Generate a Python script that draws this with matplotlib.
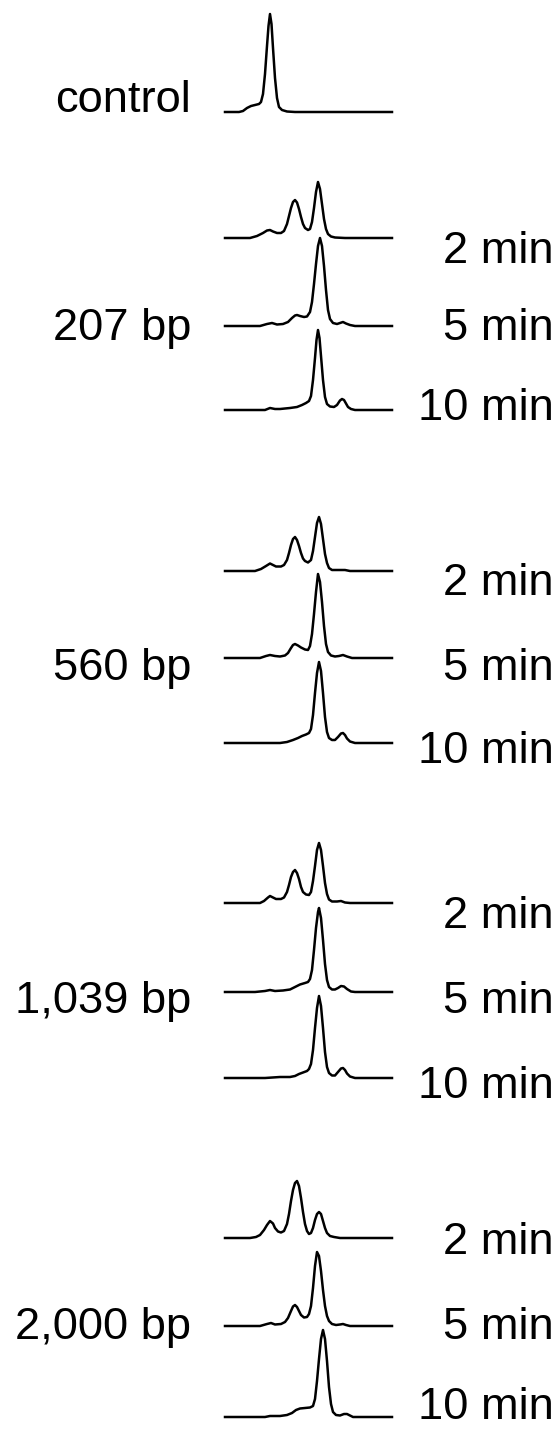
import matplotlib.pyplot as plt
import numpy as np

plt.rcParams['font.family'] = ['Liberation Sans', 'DejaVu Sans']

# densitometer traces: (position along lane, signal)
control = [(0, 0), (14, 0), (18, 1), (22, 4), (26, 6), (30, 7), (34, 8), (36, 10), (38, 18), (40, 38),
           (42, 66), (43.5, 86), (45, 98), (46.5, 88), (48, 64), (50, 34), (52, 14), (54, 5), (57, 2),
           (62, 0.5), (70, 0), (167, 0)]

bp207_2 = [(0, 0), (25, 0), (32, 2), (38, 5), (42, 7.5), (45, 8), (48, 6.5), (52, 5), (56, 5), (59, 7),
           (62, 14), (64, 22), (66, 30), (68, 36), (70, 38), (72, 35.5), (74, 29), (76, 21), (78, 14),
           (80, 10), (83, 8), (85, 9), (87, 16), (89, 30), (91, 46), (93, 56), (95, 49), (97, 34),
           (99, 19), (101, 9), (103, 4), (106, 1.5), (110, 0.5), (120, 0), (167, 0)]
bp207_5 = [(0, 0), (35, 0), (42, 2), (47, 3), (52, 1.5), (58, 2), (63, 4), (67, 8), (70, 10.5), (72, 11),
           (75, 10), (79, 9), (82, 9.5), (85, 14), (87, 24), (89, 42), (91, 62), (93, 80), (95, 88),
           (97, 80), (99, 60), (101, 36), (103, 16), (105, 7), (108, 3), (112, 2), (115, 3), (118, 4),
           (121, 2.5), (125, 1), (130, 0), (167, 0)]
bp207_10 = [(0, 0), (40, 0), (45, 2), (50, 1), (55, 1), (65, 2), (72, 3), (77, 5), (81, 7), (84, 9),
            (86, 14), (88, 30), (90, 52), (91.5, 70), (93, 80), (94.5, 72), (96, 54), (98, 30), (100, 13),
            (102, 6), (105, 3.5), (109, 3), (112, 5), (115, 9.5), (117, 11), (119, 10), (121, 6.5),
            (123, 3), (126, 1), (130, 0), (167, 0)]

bp560_2 = [(0, 0), (30, 0), (36, 2), (41, 5), (45, 7.5), (48, 6), (51, 4.5), (56, 4.5), (59, 6), (62, 11),
           (64, 18), (66, 26), (68, 32), (70, 34), (72, 31), (74, 25), (76, 18), (78, 12.5), (80, 10),
           (83, 8.5), (86, 11), (88, 20), (90, 34), (92, 48), (94, 54), (96, 47), (98, 32), (100, 17),
           (102, 8), (104, 3), (107, 1), (115, 1), (120, 1), (125, 0), (167, 0)]
bp560_5 = [(0, 0), (35, 0), (41, 2), (45, 3), (50, 2), (55, 1.5), (60, 2.5), (63, 5), (66, 10), (68, 13),
           (70, 14), (73, 12.5), (76, 10.5), (80, 8.5), (83, 8), (85, 12), (87, 24), (89, 44), (91, 66),
           (93, 84), (95, 76), (97, 56), (99, 32), (101, 14), (103, 6), (106, 2.5), (110, 1.5), (114, 2),
           (118, 3), (122, 1.5), (127, 0), (167, 0)]
bp560_10 = [(0, 0), (40, 0), (55, 0), (62, 1), (68, 3), (73, 5), (77, 7), (81, 8.5), (84, 10), (86, 14),
            (88, 28), (90, 50), (92, 70), (94, 81), (96, 72), (98, 50), (100, 26), (102, 11), (104, 5),
            (107, 3), (110, 3), (113, 6), (116, 9.5), (118, 10), (120, 8), (122, 4.5), (125, 1.5),
            (130, 0), (167, 0)]

bp1039_2 = [(0, 0), (35, 0), (39, 2), (43, 5.5), (45, 7), (48, 5.5), (51, 4), (56, 4), (59, 5.5), (62, 11),
            (64, 18), (66, 26), (68, 31), (70, 33), (72, 30), (74, 24), (76, 16), (78, 11), (81, 8.5),
            (84, 8), (86, 11), (88, 22), (90, 37), (92, 53), (94, 60), (96, 53), (98, 37), (100, 20),
            (102, 9), (104, 3.5), (107, 1.5), (112, 1.5), (116, 2), (120, 0.5), (125, 0), (167, 0)]
bp1039_5 = [(0, 0), (30, 0), (40, 1), (45, 2), (50, 1), (58, 1.5), (65, 2.5), (70, 5), (75, 7.5), (80, 9),
            (83, 10), (85, 13), (87, 22), (89, 42), (91, 64), (93, 80), (94, 84), (96, 74), (98, 52),
            (100, 28), (102, 12), (104, 5), (107, 2.5), (110, 2.5), (113, 4), (116, 6), (119, 5.5),
            (122, 3), (126, 0.5), (130, 0), (167, 0)]
bp1039_10 = [(0, 0), (40, 0), (55, 1), (65, 1), (70, 2), (74, 4), (78, 5.5), (82, 7), (84, 9), (86, 14),
             (88, 28), (90, 50), (92, 70), (94, 82), (96, 72), (98, 50), (100, 26), (102, 11), (104, 5),
             (107, 2.5), (110, 2.5), (113, 6), (116, 9.5), (118, 10), (120, 8), (122, 4.5), (125, 1.5),
             (130, 0), (167, 0)]

bp2000_2 = [(0, 0), (25, 0), (31, 1), (35, 3), (39, 8), (42, 13), (45, 17), (48, 14.5), (50, 10),
            (53, 6.5), (56, 5.5), (59, 7), (62, 14), (64, 24), (66, 37), (68, 48), (70, 55), (72, 57),
            (74, 52), (76, 40), (78, 26), (80, 14), (82, 7), (84, 4), (86, 5), (88, 10), (90, 18),
            (92, 24), (94, 26), (96, 24), (98, 17), (100, 10), (102, 5), (105, 2), (109, 1), (115, 0),
            (167, 0)]
bp2000_5 = [(0, 0), (35, 0), (42, 2), (46, 3), (50, 1.5), (56, 2), (60, 4), (63, 8), (66, 15), (68, 19.5),
            (70, 21), (72, 19), (74, 15), (76, 11), (79, 8.5), (82, 9), (84, 12), (86, 20), (88, 38),
            (90, 60), (92, 74), (94, 70), (96, 55), (98, 36), (100, 20), (102, 10), (104, 5), (107, 2),
            (111, 1), (115, 1.5), (118, 2), (121, 1), (125, 0), (167, 0)]
bp2000_10 = [(0, 0), (40, 0), (45, 1), (55, 1), (62, 2), (67, 4), (71, 7), (75, 8.5), (80, 9), (85, 9.5),
             (88, 11), (90, 18), (92, 36), (94, 58), (96, 78), (98, 87), (100, 78), (102, 56), (104, 30),
             (106, 13), (108, 5), (111, 2), (115, 1.5), (119, 3), (122, 3), (125, 1.5), (128, 0), (167, 0)]

group_labels = ['207 bp', '560 bp', '1,039 bp', '2,000 bp']
time_labels = ['2 min', '5 min', '10 min']
groups = [[bp207_2, bp207_5, bp207_10],
          [bp560_2, bp560_5, bp560_10],
          [bp1039_2, bp1039_5, bp1039_10],
          [bp2000_2, bp2000_5, bp2000_10]]

# layout (pixels of the 556 x 1431 figure, measured from the top)
W, H = 556, 1431
lane_left, lane_w = 225, 167
trace_h = 100
ctrl_base = 112
bases = [[238, 326, 410], [571, 658, 743], [903, 992, 1078], [1238, 1326, 1417]]
text_bases = [[263, 340, 420], [595, 680, 763], [928, 1013, 1098], [1254, 1339, 1419]]
fs = 32.6

fig = plt.figure(figsize=(W / 100, H / 100), dpi=100)


def draw_trace(pts, base):
    ax = fig.add_axes([lane_left / W, 1 - base / H, lane_w / W, trace_h / H])
    ax.patch.set_alpha(0)
    xs, ys = zip(*pts)
    ax.plot(xs, ys, color='black', lw=1.8, solid_joinstyle='round', clip_on=False)
    ax.set_xlim(0, 167)
    ax.set_ylim(0, 100)
    ax.axis('off')


draw_trace(control, ctrl_base)
fig.text(191 / W, 1 - ctrl_base / H, 'control', ha='right', va='baseline', fontsize=fs)

for name, traces, bs, tb in zip(group_labels, groups, bases, text_bases):
    for pts, b, y, t in zip(traces, bs, tb, time_labels):
        draw_trace(pts, b)
        fig.text(554 / W, 1 - y / H, t, ha='right', va='baseline', fontsize=fs)
    # group label sits on the same line as the "5 min" label
    fig.text(191 / W, 1 - tb[1] / H, name, ha='right', va='baseline', fontsize=fs)

fig.savefig('out.png', dpi=100, facecolor='white')
